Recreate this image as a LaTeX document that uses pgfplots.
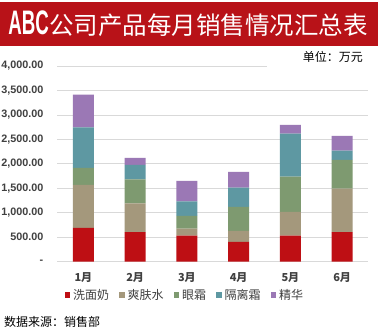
\documentclass[border=0pt]{standalone}
\usepackage{fontspec}
\usepackage{pgfplots}
\pgfplotsset{compat=1.18}
\setmainfont{Liberation Sans}
\newfontfamily\cjk{Noto Sans CJK SC}
\definecolor{bannerred}{HTML}{B81218}
\definecolor{cRed}{HTML}{BE0F14}
\definecolor{cTan}{HTML}{A4987C}
\definecolor{cGreen}{HTML}{7E9A70}
\definecolor{cTeal}{HTML}{5E98A2}
\definecolor{cPurple}{HTML}{9B78B5}
\definecolor{gridgray}{HTML}{D9D9D9}
\definecolor{txtgray}{HTML}{404040}
\begin{document}
\begin{tikzpicture}[x=1pt,y=1pt]
\useasboundingbox (0,0) rectangle (378,333);
\fill[white] (0,0) rectangle (378,333);
\fill[bannerred] (0,287) rectangle (378,331);
\node[text=white, inner sep=0] at (188,309) {\scalebox{0.55}[1]{\fontsize{34}{34}\selectfont\bfseries ABC}\cjk\fontsize{24.5}{24.5}\selectfont 公司产品每月销售情况汇总表};
\begin{axis}[
  at={(57.5pt,71.3pt)}, anchor=south west,
  scale only axis, width=310.5pt, height=195.7pt,
  ybar stacked, bar width=21pt,
  xmin=-0.5, xmax=5.5, ymin=0, ymax=4000,
  xtick={0,1,2,3,4,5},
  xticklabels={1月,2月,3月,4月,5月,6月},
  ytick={0,500,1000,1500,2000,2500,3000,3500,4000},
  yticklabels={{-},{500.00},{1,000.00},{1,500.00},{2,000.00},{2,500.00},{3,000.00},{3,500.00},{4,000.00}},
  ymajorgrids, grid style={draw=gridgray, line width=0.8pt},
  major tick length=0pt,
  axis line style={draw=none},
  yticklabel style={inner sep=0pt, anchor=east, xshift=-14pt, text=txtgray, font=\bfseries\fontsize{10.8}{10.8}\selectfont},
  xticklabel style={inner sep=0pt, anchor=center, yshift=-16pt, text=txtgray, font=\cjk\bfseries\fontsize{11}{11}\selectfont},
  legend style={at={(0.41,-0.17)}, anchor=center, draw=none, fill=none, inner sep=0pt,
    legend columns=-1, font=\cjk\fontsize{12}{12}\selectfont, text=txtgray,
    /tikz/every even column/.append style={column sep=8pt},
    /tikz/every odd column/.append style={column sep=1pt}},
  legend image code/.code={\fill[#1] (0pt,-3pt) rectangle (5.5pt,2.5pt);},
]
\addplot[fill=cRed, draw=none] coordinates {(0,690) (1,607) (2,532) (3,403) (4,532) (5,607)};
\addplot[fill=cTan, draw=none] coordinates {(0,880) (1,587) (2,143) (3,225) (4,484) (5,886)};
\addplot[fill=cGreen, draw=none] coordinates {(0,350) (1,491) (2,260) (3,491) (4,722) (5,587)};
\addplot[fill=cTeal, draw=none] coordinates {(0,826) (1,293) (2,300) (3,394) (4,880) (5,190)};
\addplot[fill=cPurple, draw=none] coordinates {(0,667) (1,143) (2,415) (3,321) (4,177) (5,300)};
\legend{洗面奶,爽肤水,眼霜,隔离霜,精华}
\end{axis}
\fill[white] (267,262) rectangle (378,286);
\node[anchor=east, inner sep=0] at (363,276) {\cjk\fontsize{12}{12}\selectfont 单位：万元};
\node[anchor=west, inner sep=0] at (4,11) {\cjk\fontsize{12}{12}\selectfont 数据来源：销售部};
\end{tikzpicture}
\end{document}
